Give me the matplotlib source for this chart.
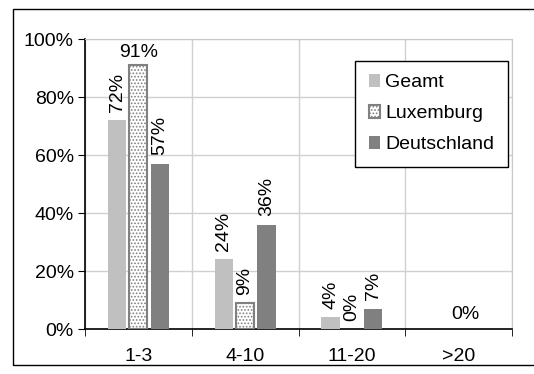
import numpy as np
import matplotlib.pyplot as plt
from matplotlib.patches import Rectangle

plt.rcParams['font.family'] = ['Liberation Sans', 'DejaVu Sans']
plt.rcParams['hatch.color'] = '#555555'
plt.rcParams['hatch.linewidth'] = 0.8

categories = ['1-3', '4-10', '11-20', '>20']
series = ['Geamt', 'Luxemburg', 'Deutschland']
geamt = [72, 24, 4, 0]
luxemburg = [91, 9, 0, 0]
deutschland = [57, 36, 7, 0]
yticks = [0, 20, 40, 60, 80, 100]

fs = 14

fig = plt.figure(figsize=(5.34, 3.74), dpi=100)
fig.patches.append(Rectangle((13 / 534, 1 - 365 / 374), 1.0, (365 - 9) / 374,
                             transform=fig.transFigure, fill=False,
                             edgecolor='black', linewidth=1.0))
ax = fig.add_axes([85 / 534, 1 - 329 / 374, (512 - 85) / 534, (329 - 39) / 374])

x = np.arange(len(categories))
w = 0.17
step = 0.2
b1 = ax.bar(x - step, geamt, w, color='#c0c0c0', label=series[0], zorder=3)
b2 = ax.bar(x, luxemburg, w, color='white', edgecolor='#808080', linewidth=1.5,
            hatch='.....', label=series[1], zorder=3)
b3 = ax.bar(x + step, deutschland, w, color='#808080', label=series[2], zorder=3)
for r, v in zip(b2, luxemburg):
    if v == 0:
        r.set_visible(False)

# Beschriftungen
for bars, vals in [(b1, geamt), (b2, luxemburg), (b3, deutschland)]:
    for i, (r, v) in enumerate(zip(bars, vals)):
        if i == 3:
            continue
        cx = r.get_x() + r.get_width() / 2
        if v > 85:
            ax.annotate(f'{v}%', (cx, v), xytext=(0, 3), textcoords='offset points',
                        ha='center', va='bottom', fontsize=fs)
        else:
            ax.annotate(f'{v}%', (cx, v), xytext=(0, 6), textcoords='offset points',
                        ha='center', va='bottom', rotation=90, fontsize=fs)
ax.annotate(f'{luxemburg[3]}%', (x[3] + 0.06, 0), xytext=(0, 4),
            textcoords='offset points', ha='center', va='bottom', fontsize=fs)

ax.set_xlim(-0.5, len(categories) - 0.5)
ax.set_ylim(0, 100)
ax.set_yticks(yticks)
ax.set_yticklabels([f'{t}%' for t in yticks], fontsize=fs)
ax.set_xticks(x)
ax.set_xticklabels(categories, fontsize=fs)
ax.set_xticks(np.arange(len(categories) + 1) - 0.5, minor=True)
ax.tick_params(axis='x', which='major', length=0, pad=14)
ax.tick_params(axis='x', which='minor', length=5, direction='out')
ax.tick_params(axis='y', length=5, direction='out', pad=3)

ax.grid(True, axis='y', color='#d0d0d0', linewidth=1, zorder=0)
ax.grid(True, axis='x', which='minor', color='#d0d0d0', linewidth=1, zorder=0)
for s in ['top', 'right']:
    ax.spines[s].set_color('#c8c8c8')
ax.spines['left'].set_linewidth(1.2)
ax.spines['bottom'].set_linewidth(1.2)

leg = ax.legend(loc='upper right', bbox_to_anchor=(0.99, 0.925), fontsize=fs,
                handlelength=0.6, handleheight=0.6, handletextpad=0.25,
                labelspacing=0.72, borderpad=0.7, borderaxespad=0,
                fancybox=False, framealpha=1)
leg.get_frame().set_edgecolor('black')
leg.get_frame().set_linewidth(1.0)

fig.savefig('out.png', dpi=100)
